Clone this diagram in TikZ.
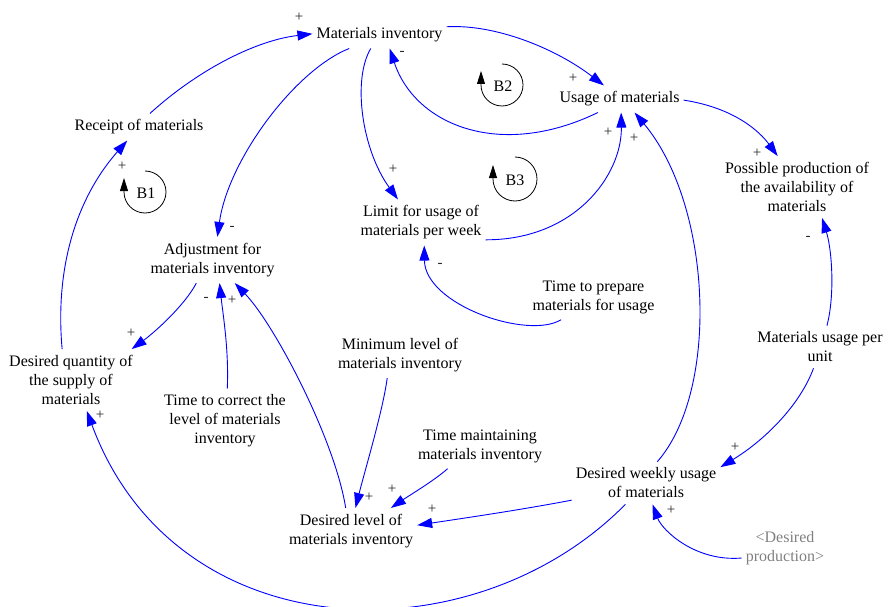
\documentclass[tikz,border=0pt]{standalone}
\usepackage{fontspec}
\setmainfont{Liberation Serif}
\usetikzlibrary{arrows.meta}
\begin{document}
\begin{tikzpicture}[x=1pt,y=1pt,
  var/.style={align=center,font=\fontsize{16}{19}\selectfont,inner xsep=4pt,inner ysep=6pt},
  shadow/.style={var,text=black!50},
  link/.style={draw=blue,line width=0.9pt,-{Triangle[length=15pt,width=10pt]}},
  pol/.style={font=\fontsize{15}{15}\selectfont,text=black!85,inner sep=0pt},
  loopar/.style={line width=0.8pt,-{Triangle[length=13pt,width=8pt]}}]
\useasboundingbox (0,0) rectangle (888,-607);
\node[var] (mi) at (379.5,-35) {Materials inventory};
\node[var] (rcpt) at (139,-127) {Receipt of materials};
\node[var] (use) at (619.5,-99) {Usage of materials};
\node[var] (poss) at (797,-187) {Possible production of\\the availability of\\materials};
\node[var] (limit) at (421,-222.5) {Limit for usage of\\materials per week};
\node[var] (adj) at (212.5,-260) {Adjustment for\\materials inventory};
\node[var] (desq) at (71,-380) {Desired quantity of\\the supply of\\materials};
\node[var] (tcor) at (225,-421) {Time to correct the\\level of materials\\inventory};
\node[var] (minl) at (400,-355) {Minimum level of\\materials inventory};
\node[var] (tprep) at (593.5,-297) {Time to prepare\\materials for usage};
\node[var] (mupu) at (820,-347) {Materials usage per\\unit};
\node[var] (tmnt) at (480,-446) {Time maintaining\\materials inventory};
\node[var] (dweek) at (646,-483) {Desired weekly usage\\of materials};
\node[var] (dlev) at (351,-531) {Desired level of\\materials inventory};
\node[shadow] (dprod) at (785,-548) {\textless Desired\\production\textgreater};

\draw[link] (rcpt.51) .. controls (200,-68) and (258,-40) .. (mi.179);
\draw[link] (mi.7) .. controls (495,-24) and (555,-48) .. (use.139);
\draw[link] (use.212) .. controls (500,-160) and (415,-125) .. (mi.307);
\draw[link] (mi.237) .. controls (352,-80) and (362,-150) .. (limit.135);
\draw[link] (mi.204) .. controls (295,-70) and (228,-160) .. (adj.78);
\draw[link] (limit.345) .. controls (575,-240) and (622,-175) .. (use.277);
\draw[link] (dweek.62) .. controls (720,-390) and (712,-205) .. (use.318);
\draw[link] (use.-1) .. controls (735,-108) and (760,-132) .. (poss.122);
\draw[link] (mupu.72) .. controls (835,-295) and (832,-250) .. (poss.309);
\draw[link] (mupu.253) .. controls (800,-405) and (765,-440) .. (dweek.12);
\draw[link] (tprep.215) .. controls (528,-340) and (425,-305) .. (limit.278);
\draw[link] (adj.235) .. controls (185,-305) and (155,-332) .. (desq.27);
\draw[link] (tcor.86) .. controls (229,-350) and (223,-315) .. (adj.287);
\draw[link] (dlev.103) .. controls (335,-440) and (275,-325) .. (adj.314);
\draw[link] (desq.106) .. controls (55,-270) and (75,-200) .. (rcpt.229);
\draw[link] (dweek.226) .. controls (473,-659) and (176,-652) .. (desq.297);
\draw[link] (minl.241) .. controls (383,-410) and (365,-470) .. (dlev.79);
\draw[link] (tmnt.215) .. controls (435,-480) and (410,-495) .. (dlev.30);
\draw[link] (dweek.193) .. controls (520,-510) and (465,-518) .. (dlev.5);
\draw[link] (dprod.193) .. controls (695,-562) and (662,-530) .. (dweek.287);

\foreach \x/\y/\s [count=\i] in {299/17/+, 573/78/+, 402/53/-, 393/169/+, 232/228/-,
    608/132/+, 634/138/+, 757/153/+, 808/238/-, 735/447/+, 440/265/-, 131/333/+,
    206/299/-, 232/300/+, 122/166/+, 100/415/+, 369/497/+, 392/489/+, 432/509/+, 671/510/+}
  \node[pol] (p\i) at (\x,-\y) {\s};

\node[var,inner sep=0pt] (b1) at (146,-193) {B1};
\node[var,inner sep=0pt] (b2) at (503,-86) {B2};
\node[var,inner sep=0pt] (b3) at (515,-180) {B3};
\draw[loopar] (b1.center) ++(-1,22) arc[start angle=90,end angle=-180,radius=21] -- ++(0,14);
\draw[loopar] (b2.center) ++(-1,22) arc[start angle=90,end angle=-180,radius=21] -- ++(0,14);
\draw[loopar] (b3.center) ++(0,23) arc[start angle=90,end angle=-180,radius=22] -- ++(0,14);
\end{tikzpicture}
\end{document}
